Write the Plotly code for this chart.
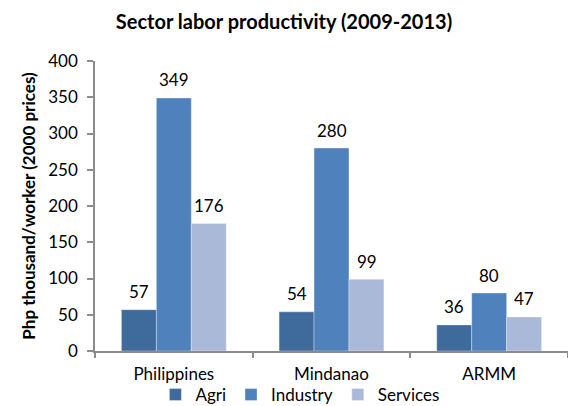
import plotly.graph_objects as go

# Sector labor productivity, Php thousand per worker at 2000 prices
regions = ["Philippines", "Mindanao", "ARMM"]
sectors = ["Agri", "Industry", "Services"]
agri = [57, 54, 36]
industry = [349, 280, 80]
services = [176, 99, 47]
yticks = [0, 50, 100, 150, 200, 250, 300, 350, 400]

series = [agri, industry, services]
colors = ["#3f6a9c", "#4f81bd", "#aab9d7"]

FONT = "Lato, 'Open Sans', sans-serif"
AXIS_GRAY = "#8c8c8c"

fig = go.Figure()
for name, vals, col in zip(sectors, series, colors):
    fig.add_trace(go.Bar(
        name=name, x=regions, y=vals,
        marker=dict(color=col, line=dict(color="rgba(255,255,255,0.35)", width=1)),
    ))

# value labels above each bar, offset to the bar's slot within its group
bar_px = 35
for i, vals in enumerate(series):
    for reg, v in zip(regions, vals):
        fig.add_annotation(
            x=reg, y=v, xref="x", yref="y", text=str(v), showarrow=False,
            xshift=(i - 1) * bar_px, yshift=18, yanchor="middle",
            font=dict(family=FONT, size=17, color="#000000"),
        )

fig.update_layout(
    width=568, height=406,
    margin=dict(l=95, r=0, t=61, b=55, autoexpand=False),
    paper_bgcolor="white", plot_bgcolor="white",
    barmode="group", bargap=0.335, bargroupgap=0,
    title=dict(text="<b>Sector labor productivity (2009-2013)</b>",
               x=0.5, xref="container", xanchor="center",
               y=0.946, yref="container", yanchor="middle",
               font=dict(family=FONT, size=20, color="#000000")),
    font=dict(family=FONT, size=17, color="#000000"),
    showlegend=True,
    legend=dict(orientation="h", x=0.528, xref="container", xanchor="center",
                y=0.027, yref="container", yanchor="middle",
                font=dict(family=FONT, size=17), itemwidth=30,
                bgcolor="rgba(0,0,0,0)"),
)
fig.update_xaxes(
    showline=True, linecolor=AXIS_GRAY, linewidth=1.5, automargin=False,
    ticks="outside", tickson="boundaries", ticklen=5, tickcolor=AXIS_GRAY, tickwidth=1.5,
    showgrid=False, tickfont=dict(family=FONT, size=17), ticklabelstandoff=7,
)
fig.update_yaxes(
    range=[0, 400], tickvals=yticks, showline=True, linecolor=AXIS_GRAY, linewidth=1.5,
    automargin=False, ticks="outside", ticklen=6, tickcolor=AXIS_GRAY, tickwidth=1.5,
    showgrid=False, zeroline=False, tickfont=dict(family=FONT, size=17),
    ticklabelstandoff=6,
    title=dict(text="<b>Php thousand/worker (2000 prices)</b>", standoff=8,
               font=dict(family=FONT, size=17)),
)

fig.write_html("out.html")
